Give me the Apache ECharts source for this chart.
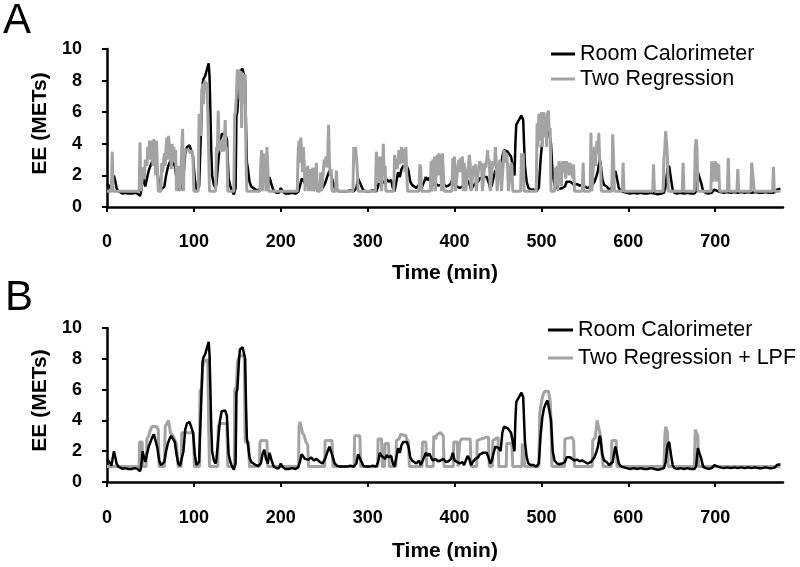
<!DOCTYPE html>
<html>
<head>
<meta charset="utf-8">
<script src="https://cdn.jsdelivr.net/npm/echarts@6/dist/echarts.min.js"></script>
<style>html,body{margin:0;padding:0;background:#fff;}#chart{width:800px;height:567px;}</style>
</head>
<body>
<div id="chart"></div>
<script>
// ---- data ----
const xTicks = [0, 100, 200, 300, 400, 500, 600, 700];
const yTicks = [0, 2, 4, 6, 8, 10];
const panelLabels = ['A', 'B'];
const legendA = ['Room Calorimeter', 'Two Regression'];
const legendB = ['Room Calorimeter', 'Two Regression + LPF'];

// Room calorimeter EE (METs) vs time (min)
const calorimeter = [
[0,1.5],[2,1.4],[4,1.2],[5,1.05],[7,1.1],[8,2.0],[9,2.1],[10,1.5],[11,1.2],[13,1.0],[15,0.9],[18,0.85],[21,0.9],[24,0.85],[26,0.9],[29,0.85],[32,0.9],[35,0.85],[37,0.8],[38,0.7],[39,0.9],[40,1.4],[41,2.0],[42,1.9],[43,1.5],[44,1.3],[46,1.8],[48,2.3],[50,2.6],[52,2.9],[54,3.1],[56,3.0],[58,2.2],[60,1.4],[62,1.1],[64,1.05],[66,1.3],[68,2.0],[70,2.5],[72,2.8],[74,3.0],[76,2.9],[78,2.6],[80,1.8],[82,1.2],[84,1.05],[86,1.1],[88,2.0],[90,3.4],[92,3.8],[95,3.9],[97,3.8],[99,3.2],[101,1.8],[103,1.1],[105,1.0],[106,1.3],[108,4.5],[110,7.8],[111,8.1],[113,8.3],[115,8.7],[117,9.1],[118,8.3],[119,6.0],[120,3.5],[121,2.0],[123,1.4],[125,1.2],[126,1.5],[128,2.8],[130,4.0],[132,4.6],[134,4.7],[136,4.65],[138,4.3],[139,3.0],[140,1.8],[142,1.3],[144,1.0],[146,0.8],[147,0.7],[148,1.2],[149,5.8],[150,6.0],[152,8.0],[153,8.6],[156,8.75],[158,8.7],[159,8.0],[160,5.0],[161,2.8],[162,2.5],[164,1.6],[166,1.3],[168,1.2],[171,1.1],[174,1.05],[177,1.2],[179,1.8],[181,2.1],[183,1.5],[185,1.2],[187,1.9],[188,2.0],[190,1.3],[192,1.0],[195,0.9],[198,0.9],[200,1.2],[202,1.0],[205,0.85],[209,0.85],[213,0.9],[217,0.85],[220,0.95],[222,1.3],[224,1.8],[226,1.75],[228,1.5],[230,1.6],[232,1.45],[235,1.6],[238,1.4],[241,1.5],[243,1.6],[245,1.3],[248,1.2],[251,1.5],[254,2.0],[256,2.3],[258,2.2],[260,1.6],[262,1.2],[265,1.05],[268,1.0],[272,1.0],[276,1.0],[280,1.05],[284,1.0],[287,1.2],[289,1.8],[291,1.9],[293,1.3],[295,1.05],[298,1.0],[302,1.0],[306,1.05],[310,1.0],[312,1.3],[314,1.9],[316,1.7],[318,1.8],[320,1.5],[322,1.75],[324,1.6],[327,1.7],[329,1.2],[331,1.0],[333,1.6],[335,2.2],[337,1.9],[339,2.4],[341,2.6],[343,2.5],[345,2.6],[347,2.3],[349,1.6],[351,1.4],[353,1.3],[356,1.2],[359,1.4],[361,1.1],[363,1.0],[365,1.6],[367,1.9],[369,1.7],[371,1.85],[373,1.6],[375,1.4],[378,1.5],[381,1.35],[384,1.4],[387,1.5],[390,1.3],[393,1.35],[396,1.5],[398,1.9],[400,1.4],[403,1.3],[406,1.2],[409,1.3],[411,1.1],[413,1.4],[415,1.7],[417,1.5],[419,1.1],[421,1.3],[424,1.5],[427,1.6],[429,1.8],[431,1.7],[433,1.9],[435,2.0],[437,1.9],[439,1.6],[441,1.2],[443,1.4],[445,1.9],[447,2.3],[449,2.4],[451,2.2],[453,2.0],[455,3.2],[457,3.6],[459,3.6],[461,3.5],[463,3.4],[465,3.2],[467,2.6],[469,2.0],[470,4.0],[471,5.2],[473,5.4],[475,5.4],[477,5.8],[478,5.9],[479,5.5],[480,4.0],[481,2.6],[483,1.6],[485,1.2],[488,1.1],[491,1.1],[494,1.0],[496,0.9],[497,1.2],[499,3.0],[501,4.2],[503,4.8],[505,5.1],[507,5.3],[509,5.2],[511,4.0],[513,2.0],[515,1.4],[518,1.2],[521,1.15],[524,1.2],[527,1.3],[529,1.6],[531,1.7],[533,1.6],[535,1.5],[538,1.4],[541,1.45],[544,1.35],[547,1.4],[550,1.3],[553,1.2],[555,1.15],[557,1.3],[559,1.4],[561,1.6],[563,1.9],[565,2.3],[567,3.0],[568,2.8],[570,1.8],[572,1.4],[575,1.3],[578,1.1],[580,1.0],[582,1.3],[584,2.0],[585,2.3],[587,1.8],[589,1.2],[592,1.0],[595,0.95],[598,0.9],[602,0.85],[606,0.9],[610,0.85],[614,0.9],[618,0.85],[622,0.85],[626,0.9],[630,0.85],[634,0.8],[638,0.85],[641,0.9],[643,1.3],[645,2.4],[647,2.6],[649,1.8],[651,1.1],[653,0.9],[656,0.85],[660,0.9],[664,0.85],[668,0.9],[672,0.85],[676,0.85],[678,1.0],[680,2.2],[682,2.3],[684,1.5],[686,1.0],[689,0.9],[692,0.85],[696,0.9],[699,1.1],[701,1.2],[703,1.0],[706,0.95],[710,0.9],[714,0.95],[718,0.9],[722,0.95],[726,0.9],[730,0.95],[734,0.9],[738,0.95],[742,0.9],[746,0.95],[750,0.9],[754,0.9],[758,0.95],[762,0.9],[766,0.9],[769,0.95],[771,1.1],[773,1.2],[775,1.15]
];

// Two Regression estimate (panel A)
const twoRegression = [
[0,1.0],[5,1.0],[6,3.5],[7,1.0],[37,1.0],[38,4.1],[39,1.0],[41,1.0],[42,2.5],[43,1.8],[44,3.0],[46,2.6],[47,3.8],[48,3.4],[49,4.2],[50,3.0],[51,4.2],[52,3.2],[53,2.6],[54,4.3],[55,3.5],[56,2.0],[57,4.2],[58,2.5],[59,1.0],[62,1.0],[63,2.8],[64,2.2],[66,3.4],[67,2.6],[68,3.8],[69,4.4],[70,3.0],[71,4.5],[72,3.6],[73,3.9],[74,2.4],[75,4.0],[76,3.2],[77,3.8],[78,2.8],[79,3.6],[80,1.0],[82,1.0],[83,2.6],[84,1.0],[86,1.0],[87,4.95],[88,1.0],[89,3.3],[90,3.6],[92,3.5],[94,3.6],[96,3.4],[98,3.6],[99,3.0],[100,1.0],[105,1.0],[106,5.9],[107,6.0],[108,4.5],[109,7.3],[110,7.8],[111,6.5],[112,7.8],[113,8.0],[114,7.5],[115,7.9],[116,6.0],[117,3.5],[118,1.0],[125,1.0],[126,3.8],[127,3.4],[128,6.1],[129,3.6],[130,4.2],[131,3.5],[132,3.9],[133,4.3],[134,3.5],[135,4.0],[136,5.5],[137,3.6],[138,3.8],[139,1.0],[146,1.0],[147,5.8],[148,6.0],[149,7.2],[150,8.7],[151,8.5],[152,8.7],[153,6.8],[154,8.6],[155,5.0],[156,8.5],[157,7.9],[158,6.5],[159,8.4],[160,2.8],[161,1.0],[176,1.0],[177,2.8],[178,3.6],[179,1.0],[180,3.4],[181,2.2],[182,3.0],[183,1.0],[184,3.8],[185,2.6],[186,1.0],[219,1.0],[220,3.5],[221,4.2],[222,2.8],[223,4.4],[224,3.6],[225,2.2],[226,3.8],[227,2.6],[228,1.0],[229,2.5],[230,1.5],[231,2.6],[232,1.0],[234,2.4],[235,1.0],[237,2.5],[238,1.0],[240,1.8],[241,2.8],[242,1.0],[245,1.0],[246,2.2],[247,1.0],[249,1.0],[250,3.0],[251,2.6],[252,3.2],[253,2.5],[254,3.0],[255,5.2],[256,2.8],[257,2.0],[258,2.4],[259,1.0],[263,1.0],[264,2.3],[265,1.0],[283,1.0],[284,3.8],[285,3.3],[286,3.8],[287,3.2],[288,2.4],[289,1.0],[309,1.0],[310,3.5],[311,2.5],[312,3.2],[313,1.5],[314,3.2],[315,2.8],[316,1.0],[317,2.2],[318,4.0],[319,2.0],[320,2.6],[321,1.0],[330,1.0],[331,3.3],[332,2.6],[333,3.0],[334,2.4],[335,3.0],[336,3.6],[337,2.7],[338,3.2],[339,3.8],[340,2.8],[341,3.1],[342,3.7],[343,2.2],[344,3.8],[345,2.0],[346,1.0],[359,1.0],[360,2.7],[361,2.5],[362,1.0],[372,1.0],[373,2.9],[374,1.0],[375,3.0],[376,2.2],[377,3.2],[378,1.0],[379,2.8],[380,3.3],[381,2.0],[382,3.4],[383,2.6],[384,3.3],[385,1.0],[386,3.4],[387,2.4],[388,1.0],[397,1.0],[398,3.1],[399,2.4],[400,3.2],[401,1.0],[403,1.0],[404,2.6],[405,3.0],[406,2.2],[407,3.1],[408,2.6],[409,3.2],[410,1.0],[411,2.8],[412,2.4],[413,1.0],[415,1.0],[416,2.6],[417,3.3],[418,2.7],[419,1.0],[421,1.0],[422,2.6],[423,2.4],[424,2.7],[425,1.0],[427,1.0],[428,2.6],[429,2.9],[430,2.4],[431,2.8],[432,1.0],[434,1.0],[435,2.8],[436,2.5],[437,3.0],[438,3.6],[439,2.8],[440,3.0],[441,1.0],[443,1.0],[444,2.9],[445,2.8],[446,2.6],[447,3.8],[448,2.8],[449,1.0],[451,1.0],[452,3.0],[453,2.6],[454,1.0],[456,1.0],[457,3.6],[458,3.6],[459,2.8],[460,3.4],[461,2.6],[462,1.0],[464,1.0],[465,2.8],[466,2.6],[467,1.0],[476,1.0],[477,3.4],[478,2.6],[479,3.4],[480,1.0],[494,1.0],[495,5.3],[496,3.8],[497,5.9],[498,4.2],[499,5.5],[500,6.0],[501,3.8],[502,5.6],[503,6.0],[504,4.5],[505,5.7],[506,3.8],[507,5.9],[508,6.1],[509,4.8],[510,5.0],[511,1.0],[515,1.0],[516,2.5],[517,1.5],[518,2.6],[519,1.0],[520,2.9],[521,2.0],[522,2.8],[523,1.3],[524,2.9],[525,2.2],[526,2.9],[527,2.5],[528,1.8],[529,2.9],[530,2.3],[531,2.8],[532,2.0],[533,2.8],[534,2.4],[535,2.6],[536,1.8],[537,2.7],[538,1.0],[547,1.0],[548,2.8],[549,1.0],[556,1.0],[557,4.7],[558,1.0],[560,1.0],[561,3.8],[562,2.6],[563,3.6],[564,4.2],[565,3.4],[566,4.7],[567,3.0],[568,2.6],[569,1.0],[581,1.0],[582,4.6],[583,3.0],[584,1.0],[593,1.0],[594,2.8],[595,1.0],[628,1.0],[629,2.7],[630,1.0],[640,1.0],[641,3.0],[642,3.7],[643,4.8],[644,4.1],[645,3.2],[646,1.0],[662,1.0],[663,2.8],[664,1.0],[676,1.0],[677,3.7],[678,4.3],[679,3.8],[680,1.0],[695,1.0],[696,2.9],[697,1.6],[698,2.8],[699,1.8],[700,2.9],[701,1.6],[702,2.8],[703,2.0],[704,2.7],[705,1.0],[714,1.0],[715,3.1],[716,1.0],[725,1.0],[726,2.4],[727,1.0],[741,1.0],[742,2.8],[743,2.7],[744,2.8],[745,1.0],[766,1.0],[767,2.55],[768,1.0],[775,1.0]
];

// Two Regression + low-pass filter estimate (panel B)
const twoRegressionLPF = [
[0,1.0],[37,1.0],[37.5,2.6],[40.5,2.6],[41,1.0],[45,1.0],[46,2.8],[48,3.0],[50,3.4],[52,3.6],[57,3.6],[59,3.4],[60,1.0],[66,1.0],[67,3.6],[69,3.8],[70.5,4.0],[72,3.6],[73,3.2],[76,3.0],[78,2.9],[80,2.5],[81,2.5],[82,1.0],[85.5,1.0],[86,3.2],[99.5,3.2],[100.5,1.0],[106.5,1.0],[107,5.9],[109,6.1],[110,7.4],[111,7.7],[113,7.9],[116,7.9],[117,3.5],[118,1.0],[127.5,1.0],[128,3.6],[130,3.8],[138,3.8],[139,1.0],[146.5,1.0],[147,6.0],[149,6.2],[150,7.7],[151,8.0],[153,8.2],[158,8.2],[159,2.6],[163,2.6],[164,1.0],[175.5,1.0],[176,2.5],[177,2.7],[184,2.7],[185,1.0],[220.5,1.0],[221,3.6],[222,3.9],[224,3.9],[225,3.2],[227,3.0],[229,2.6],[231,2.4],[232,1.0],[250.5,1.0],[251,2.7],[259,2.7],[260,1.0],[284.5,1.0],[285,3.0],[291,3.0],[292,1.0],[311.5,1.0],[312,2.8],[316,2.8],[317,1.0],[319.5,1.0],[320,2.5],[324,2.5],[325,1.0],[332.5,1.0],[333,2.7],[336,2.8],[338,3.1],[344,3.0],[345,2.8],[347,2.6],[348,1.0],[362.5,1.0],[363,2.6],[367,2.6],[368,1.0],[375.5,1.0],[376,3.0],[378,2.8],[380,3.1],[384,3.2],[387,3.0],[388,1.0],[398.5,1.0],[399,2.6],[403,2.6],[404,1.0],[405.5,1.0],[406,2.6],[408,2.8],[418,2.8],[419,1.0],[425.5,1.0],[426,2.7],[431,2.8],[436,2.9],[439,2.9],[440,1.0],[443.5,1.0],[444,2.7],[450,2.9],[451,1.0],[459.5,1.0],[460,2.5],[466,2.5],[467,1.0],[477.5,1.0],[478,2.5],[480,2.5],[481,1.0],[497,1.0],[498,4.5],[500,5.2],[502,5.7],[504,5.9],[508,5.9],[510,5.3],[511,4.0],[512,1.0],[526.5,1.0],[527,2.8],[529,2.9],[535,2.9],[537,2.7],[538,1.0],[558.5,1.0],[559,2.7],[562,2.9],[564,4.0],[566,4.1],[568,3.0],[570,2.9],[571,1.0],[580.5,1.0],[581,2.7],[586,2.7],[587,1.0],[641,1.0],[642,3.0],[643,3.6],[645,3.2],[646,1.0],[676,1.0],[677,3.4],[679,3.5],[680,3.0],[681,1.0],[775,1.0]
];

// ---- chart ----
const FONT = "'Liberation Sans', Arial, sans-serif";
const chart = echarts.init(document.getElementById('chart'), null, {renderer: 'canvas'});

function xAxisDef(gridIndex, offset, gap) {
  return {
    type: 'value', gridIndex: gridIndex, min: 0, max: 778, offset: offset,
    name: 'Time (min)', nameLocation: 'middle', nameGap: gap,
    nameTextStyle: {fontFamily: FONT, fontWeight: 'bold', fontSize: 21, color: '#000'},
    axisLine: {show: true, lineStyle: {color: '#000', width: 2.5}},
    axisTick: {show: true, length: 5, inside: false, customValues: xTicks, lineStyle: {color: '#000', width: 2}},
    axisLabel: {customValues: xTicks, margin: 10, fontFamily: FONT, fontWeight: 'bold', fontSize: 18, color: '#000'},
    splitLine: {show: false}
  };
}
function yAxisDef(gridIndex) {
  return {
    type: 'value', gridIndex: gridIndex, min: 0, max: 10, interval: 2, offset: 17,
    name: 'EE (METs)', nameLocation: 'middle', nameGap: 35, nameRotate: 90,
    nameTextStyle: {fontFamily: FONT, fontWeight: 'bold', fontSize: 21, color: '#000', padding: [0, 0, 0, 9]},
    axisLine: {show: true, lineStyle: {color: '#000', width: 2.5}},
    axisTick: {show: true, length: 5, customValues: yTicks, lineStyle: {color: '#000', width: 2}},
    axisLabel: {customValues: yTicks, margin: 8, fontFamily: FONT, fontWeight: 'bold', fontSize: 18, color: '#000'},
    splitLine: {show: false}
  };
}
function lineSeries(name, data, color, width, xi, z) {
  return {
    type: 'line', name: name, data: data, xAxisIndex: xi, yAxisIndex: xi,
    showSymbol: false, symbol: 'none', smooth: false, z: z,
    lineStyle: {color: color, width: width}, itemStyle: {color: color}
  };
}

const GRAY = '#a3a3a3';
chart.setOption({
  animation: false,
  backgroundColor: '#fff',
  title: [
    {text: panelLabels[0], left: 3, top: 0, padding: 0, textStyle: {fontFamily: FONT, fontWeight: 'normal', fontSize: 42, color: '#000'}},
    {text: panelLabels[1], left: 5, top: 277, padding: 0, textStyle: {fontFamily: FONT, fontWeight: 'normal', fontSize: 42, color: '#000'}}
  ],
  grid: [
    {left: 107, top: 49, width: 676, height: 158, containLabel: false},
    {left: 107, top: 328, width: 676, height: 154, containLabel: false}
  ],
  legend: [
    {data: legendA, orient: 'vertical', left: 551, top: 43, padding: 0, icon: 'rect', itemWidth: 24, itemHeight: 3, itemGap: 3,
     textStyle: {fontFamily: FONT, fontSize: 21.5, color: '#000'}},
    {data: legendB, orient: 'vertical', left: 548, top: 319, padding: 0, icon: 'rect', itemWidth: 25, itemHeight: 3, itemGap: 6,
     textStyle: {fontFamily: FONT, fontSize: 21.5, color: '#000'}}
  ],
  xAxis: [xAxisDef(0, 16, 40), xAxisDef(1, 17, 42)],
  yAxis: [yAxisDef(0), yAxisDef(1)],
  series: [
    lineSeries(legendA[0], calorimeter, '#000', 2.5, 0, 2),
    lineSeries(legendA[1], twoRegression, GRAY, 3, 0, 3),
    lineSeries(legendB[1], twoRegressionLPF, GRAY, 3, 1, 2),
    lineSeries(legendB[0], calorimeter, '#000', 2.5, 1, 3)
  ]
});
</script>
</body>
</html>
